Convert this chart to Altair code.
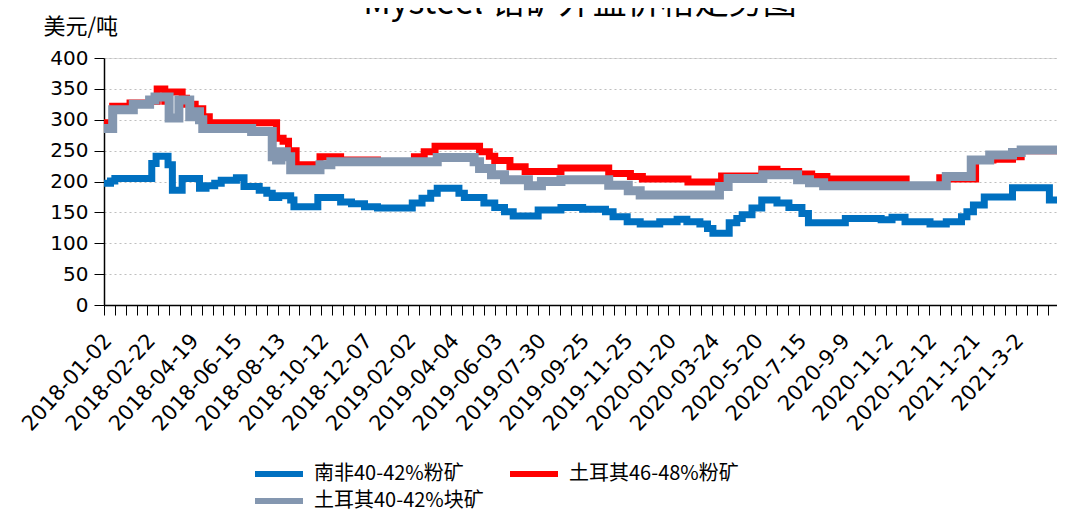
import json
import altair as alt
import pandas as pd

# ---- data (step change points: trading-day index, price USD/t) ----
chart_title = "Mysteel 铬矿外盘价格走势图"
series_names = ["南非40-42%粉矿", "土耳其46-48%粉矿", "土耳其40-42%块矿"]
series_colors = ["#0070C0", "#FF0000", "#8497B0"]

blue_idx = [0, 6, 10, 44, 48, 59, 63, 72, 88, 94,
            102, 108, 122, 129, 143, 150, 155, 161, 172, 175,
            197, 218, 228, 240, 252, 284, 293, 301, 307, 327,
            332, 350, 360, 369, 377, 400, 421, 441, 462, 469,
            482, 494, 512, 528, 537, 549, 556, 561, 576, 583,
            588, 597, 606, 620, 631, 643, 649, 683, 716, 726,
            738, 761, 776, 790, 795, 801, 811, 837, 871, 878]
blue_val = [197, 201, 205, 229, 241, 227, 186, 205, 189, 193,
            197, 202, 206, 192, 186, 181, 174, 177, 170, 159,
            174, 167, 164, 159, 157, 165, 173, 181, 189, 181,
            174, 165, 158, 151, 144, 154, 158, 155, 151, 143,
            135, 131, 135, 139, 135, 131, 124, 116, 133, 140,
            146, 157, 170, 165, 158, 148, 133, 140, 138, 142,
            135, 131, 135, 143, 151, 162, 175, 190, 170, 170]

red_idx = [0, 8, 24, 42, 49, 56, 59, 72, 76, 84,
           91, 97, 159, 165, 170, 177, 199, 218, 252, 286,
           295, 305, 346, 355, 360, 374, 388, 421, 465, 485,
           496, 538, 569, 606, 620, 640, 652, 666, 739, 770,
           775, 803, 819, 837, 845, 878]
red_val = [295, 322, 327, 330, 350, 330, 345, 335, 325, 318,
           305, 295, 270, 265, 250, 227, 240, 235, 232, 240,
           248, 257, 248, 241, 234, 224, 216, 222, 213, 208,
           204, 199, 209, 220, 216, 212, 208, 204, 193, 206,
           204, 235, 236, 240, 250, 250]

gray_idx = [0, 8, 27, 42, 47, 60, 69, 79, 83, 88,
            91, 136, 155, 159, 163, 168, 172, 199, 209, 307,
            341, 346, 357, 369, 391, 403, 421, 465, 483, 494,
            567, 575, 607, 639, 650, 663, 776, 799, 816, 837,
            845, 878]
gray_val = [286, 316, 325, 332, 337, 303, 332, 305, 313, 300,
            286, 281, 240, 235, 248, 240, 219, 227, 232, 239,
            232, 221, 211, 203, 193, 200, 203, 194, 185, 178,
            192, 205, 211, 203, 198, 193, 208, 235, 243, 247,
            251, 251]

date_labels = ["2018-01-02", "2018-02-22", "2018-04-19", "2018-06-15", "2018-08-13",
               "2018-10-12", "2018-12-07", "2019-02-02", "2019-04-04", "2019-06-03",
               "2019-07-30", "2019-09-25", "2019-11-25", "2020-01-20", "2020-03-24",
               "2020-5-20", "2020-7-15", "2020-9-9", "2020-11-2", "2020-12-12",
               "2021-1-21", "2021-3-2"]
label_every = 40
tick_every = 10
n_days = 878

rows = []
for name, idx, val in zip(series_names, [blue_idx, red_idx, gray_idx],
                          [blue_val, red_val, gray_val]):
    for i, v in zip(idx, val):
        rows.append({"series": name, "i": i, "v": v})
df = pd.DataFrame(rows)

label_expr = (
    f"datum.value % {label_every} == 0 && datum.value / {label_every} < {len(date_labels)} ? "
    f"{json.dumps(date_labels, ensure_ascii=False)}[datum.value / {label_every}] : ''"
)

x_enc = alt.X(
    "i:Q",
    scale=alt.Scale(domain=[0, n_days], nice=False, zero=True),
    axis=alt.Axis(
        values=list(range(0, n_days + 1, tick_every)),
        labelExpr=label_expr,
        labelAngle=-48, labelAlign="right", labelBaseline="middle",
        labelPadding=22, labelOffset=4, labelFont="DejaVu Sans", labelFontSize=21,
        labelColor="black",
        labelOverlap=False, labelBound=False, labelFlush=False,
        tickColor="black", tickSize=10, tickWidth=1,
        domainColor="black", domainWidth=1.5,
        grid=False, title=None,
    ),
)
y_enc = alt.Y(
    "v:Q",
    scale=alt.Scale(domain=[0, 400], nice=False),
    axis=alt.Axis(
        values=list(range(0, 401, 50)),
        labelFont="DejaVu Sans", labelFontSize=20, labelColor="black", labelPadding=6,
        tickColor="black", tickSize=10, tickWidth=1,
        domainColor="black", domainWidth=1.5,
        grid=True, gridColor="#BFBFBF", gridDash=[2, 3], gridWidth=1,
        title="美元/吨", titleAngle=0, titleAlign="left", titleBaseline="alphabetic",
        titleX=-61, titleY=-25, titleFont="Noto Sans CJK SC", titleFontSize=22,
        titleFontWeight="normal", titleColor="black",
    ),
)
color_enc = alt.Color(
    "series:N",
    scale=alt.Scale(domain=series_names, range=series_colors),
    legend=alt.Legend(
        title=None, orient="none", legendX=160, legendY=401, columns=2,
        direction="horizontal",
        symbolType="M-2,0H2", symbolSize=576, symbolStrokeWidth=6,
        labelFont="Noto Sans CJK SC", labelFontSize=20, labelColor="black",
        labelOffset=20, labelLimit=400, columnPadding=14, rowPadding=0,
    ),
)

widths = [7, 7, 9]
layers = []
for name, w in zip(series_names, widths):
    layers.append(
        alt.Chart(df)
        .transform_filter(alt.datum.series == name)
        .mark_line(interpolate="step-after", strokeWidth=w, clip=True)
        .encode(x=x_enc, y=y_enc, color=color_enc)
    )

# chart title (cropped at the top edge, as in the source picture)
title_layer = (
    alt.Chart(pd.DataFrame({"t": [chart_title]}))
    .mark_text(font="Noto Sans CJK SC", fontSize=34, align="center", baseline="alphabetic",
               color="black")
    .encode(text="t:N", x=alt.value(476), y=alt.value(-44))
)

chart = (
    alt.layer(*layers, title_layer)
    .properties(
        width=953, height=247,
        autosize=alt.AutoSizeParams(type="none"),
        padding={"left": 96, "top": 50, "right": 0, "bottom": 206},
    )
    .configure_view(stroke=None)
    .configure(background="white")
)

chart.save("out.html", embed_options={"renderer": "svg", "actions": False})
